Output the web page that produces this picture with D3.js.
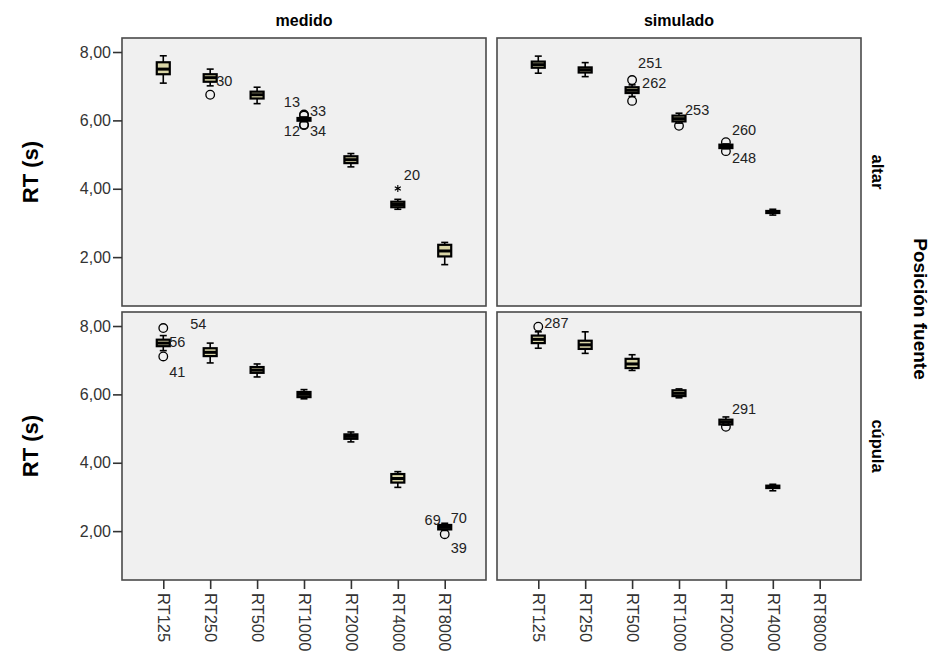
<!DOCTYPE html>
<html>
<head>
<meta charset="utf-8">
<script src="https://cdn.jsdelivr.net/npm/d3@7"></script>
<style>
  body { margin: 0; background: #fff; }
  text { font-family: "Liberation Sans", Arial, sans-serif; }
</style>
</head>
<body>
<svg id="chart" width="934" height="657"></svg>
<script>
const categories = ["RT125", "RT250", "RT500", "RT1000", "RT2000", "RT4000", "RT8000"]
const columns = ["medido", "simulado"]
const rows = ["altar", "cúpula"]
const yTicks = [2, 4, 6, 8]

// box stats per category: [lower whisker, q1, median, q3, upper whisker]
const medidoAltar = [
    [7.09, 7.35, 7.50, 7.70, 7.89],
    [7.01, 7.13, 7.25, 7.35, 7.50],
    [6.49, 6.64, 6.75, 6.84, 6.97],
    [5.96, 5.99, 6.03, 6.07, 6.10],
    [4.64, 4.75, 4.85, 4.95, 5.03],
    [3.40, 3.46, 3.54, 3.62, 3.69],
    [1.78, 2.02, 2.18, 2.36, 2.43]
]
const simuladoAltar = [
    [7.38, 7.54, 7.63, 7.72, 7.88],
    [7.28, 7.40, 7.48, 7.55, 7.69],
    [6.70, 6.80, 6.88, 6.97, 7.04],
    [5.92, 5.97, 6.05, 6.14, 6.21],
    [5.17, 5.19, 5.24, 5.29, 5.31],
    [3.23, 3.29, 3.32, 3.35, 3.40],
    null
]
const medidoCupula = [
    [7.28, 7.41, 7.50, 7.60, 7.72],
    [6.92, 7.12, 7.23, 7.35, 7.50],
    [6.51, 6.63, 6.71, 6.80, 6.89],
    [5.87, 5.92, 6.00, 6.07, 6.14],
    [4.61, 4.70, 4.77, 4.83, 4.90],
    [3.28, 3.42, 3.54, 3.67, 3.74],
    [2.02, 2.05, 2.11, 2.18, 2.23]
]
const simuladoCupula = [
    [7.35, 7.50, 7.61, 7.72, 7.83],
    [7.20, 7.33, 7.45, 7.57, 7.83],
    [6.70, 6.77, 6.89, 7.04, 7.16],
    [5.90, 5.95, 6.03, 6.12, 6.16],
    [5.10, 5.12, 5.19, 5.26, 5.34],
    [3.18, 3.26, 3.30, 3.33, 3.37],
    null
]

// outliers: o = circle, * = extreme
const outliersMedidoAltar = [
    {cat: "RT250", v: 6.75, mark: "o"},
    {cat: "RT1000", v: 6.17, mark: "o"},
    {cat: "RT1000", v: 6.14, mark: "o"},
    {cat: "RT1000", v: 5.88, mark: "o"},
    {cat: "RT1000", v: 5.86, mark: "o"},
    {cat: "RT4000", v: 4.01, mark: "*"}
]
const outliersSimuladoAltar = [
    {cat: "RT500", v: 7.18, mark: "o"},
    {cat: "RT500", v: 6.57, mark: "o"},
    {cat: "RT1000", v: 5.84, mark: "o"},
    {cat: "RT2000", v: 5.36, mark: "o"},
    {cat: "RT2000", v: 5.10, mark: "o"}
]
const outliersMedidoCupula = [
    {cat: "RT125", v: 7.94, mark: "o"},
    {cat: "RT125", v: 7.11, mark: "o"},
    {cat: "RT8000", v: 1.91, mark: "o"}
]
const outliersSimuladoCupula = [
    {cat: "RT125", v: 7.98, mark: "o"},
    {cat: "RT2000", v: 5.05, mark: "o"}
]

// case labels next to outliers (v = where the label sits, side = r/l of the box)
const labelsMedidoAltar = [
    {cat: "RT250", v: 7.16, text: "30", side: "r"},
    {cat: "RT1000", v: 6.55, text: "13", side: "l"},
    {cat: "RT1000", v: 6.29, text: "33", side: "r"},
    {cat: "RT1000", v: 5.68, text: "12", side: "l"},
    {cat: "RT1000", v: 5.68, text: "34", side: "r"},
    {cat: "RT4000", v: 4.40, text: "20", side: "r"}
]
const labelsSimuladoAltar = [
    {cat: "RT500", v: 7.67, text: "251", side: "r"},
    {cat: "RT500", v: 7.09, text: "262", side: "r"},
    {cat: "RT1000", v: 6.31, text: "253", side: "r"},
    {cat: "RT2000", v: 5.73, text: "260", side: "r"},
    {cat: "RT2000", v: 4.90, text: "248", side: "r"}
]
const labelsMedidoCupula = [
    {cat: "RT125", v: 8.06, text: "54", side: "r"},
    {cat: "RT125", v: 7.52, text: "56", side: "r"},
    {cat: "RT125", v: 6.65, text: "41", side: "r"},
    {cat: "RT8000", v: 2.33, text: "69", side: "l"},
    {cat: "RT8000", v: 2.38, text: "70", side: "r"},
    {cat: "RT8000", v: 1.50, text: "39", side: "r"}
]
const labelsSimuladoCupula = [
    {cat: "RT125", v: 8.09, text: "287", side: "r"},
    {cat: "RT2000", v: 5.58, text: "291", side: "r"}
]

const panels = [
    {col: 0, row: 0, boxes: medidoAltar, outliers: outliersMedidoAltar, labels: labelsMedidoAltar},
    {col: 1, row: 0, boxes: simuladoAltar, outliers: outliersSimuladoAltar, labels: labelsSimuladoAltar},
    {col: 0, row: 1, boxes: medidoCupula, outliers: outliersMedidoCupula, labels: labelsMedidoCupula},
    {col: 1, row: 1, boxes: simuladoCupula, outliers: outliersSimuladoCupula, labels: labelsSimuladoCupula}
]

// layout
const panelW = 364, panelH = 268
const colX = [122, 497], rowY = [38, 312]
const boxW = 13, capW = 7
const boxFill = "#d9d5a6"
const labelNudge = {"54": 27, "262": 10}

const svg = d3.select("#chart")

const x = d3.scalePoint().domain(categories).range([0, panelW]).padding(0.88)
const y = d3.scaleLinear().domain([0.57, 8.41]).range([panelH, 0])

const fmt = d => d3.format(".2f")(d).replace(".", ",")

panels.forEach(p => {
    const g = svg.append("g")
        .attr("transform", `translate(${colX[p.col]},${rowY[p.row]})`)

    g.append("rect")
        .attr("width", panelW).attr("height", panelH)
        .attr("fill", "#f0f0f0")

    const stats = categories.map((c, i) => ({cat: c, s: p.boxes[i]})).filter(d => d.s)

    const bx = g.append("g").selectAll("g")
        .data(stats)
        .enter()
        .append("g")
        .attr("transform", d => `translate(${x(d.cat)},0)`)

    // whiskers
    bx.append("line")
        .attr("y1", d => y(d.s[0])).attr("y2", d => y(d.s[4]))
        .attr("stroke", "#000").attr("stroke-width", 1.6)
    bx.selectAll(".cap")
        .data(d => [d.s[0], d.s[4]])
        .enter()
        .append("line")
        .attr("x1", -capW / 2).attr("x2", capW / 2)
        .attr("y1", d => y(d)).attr("y2", d => y(d))
        .attr("stroke", "#000").attr("stroke-width", 1.6)
    // box
    bx.append("rect")
        .attr("x", -boxW / 2)
        .attr("width", boxW)
        .attr("y", d => y(d.s[3]))
        .attr("height", d => y(d.s[1]) - y(d.s[3]))
        .attr("fill", boxFill)
        .attr("stroke", "#000").attr("stroke-width", 2.2)
    // median
    bx.append("line")
        .attr("x1", -boxW / 2).attr("x2", boxW / 2)
        .attr("y1", d => y(d.s[2])).attr("y2", d => y(d.s[2]))
        .attr("stroke", "#000").attr("stroke-width", 3)

    // outliers
    g.append("g").selectAll("circle")
        .data(p.outliers.filter(d => d.mark == "o"))
        .enter()
        .append("circle")
        .attr("cx", d => x(d.cat)).attr("cy", d => y(d.v))
        .attr("r", 4.3)
        .attr("fill", "none")
        .attr("stroke", "#000").attr("stroke-width", 1.3)
    g.append("g").selectAll("path")
        .data(p.outliers.filter(d => d.mark == "*"))
        .enter()
        .append("path")
        .attr("transform", d => `translate(${x(d.cat)},${y(d.v)})`)
        .attr("d", d3.symbol(d3.symbolAsterisk, 34))
        .attr("fill", "none")
        .attr("stroke", "#000").attr("stroke-width", 1.1)

    // case labels
    g.append("g").selectAll("text")
        .data(p.labels)
        .enter()
        .append("text")
        .attr("x", d => x(d.cat) + (labelNudge[d.text] || (d.side == "r" ? 6 : -4)))
        .attr("y", d => y(d.v))
        .attr("dy", "0.35em")
        .attr("text-anchor", d => d.side == "r" ? "start" : "end")
        .style("font-size", "14.5px")
        .style("fill", "#222")
        .text(d => d.text)

    // border
    g.append("rect")
        .attr("width", panelW).attr("height", panelH)
        .attr("fill", "none")
        .attr("stroke", "#4a4a4a").attr("stroke-width", 1.6)

    // y axis on the left column
    if (p.col == 0) {
        const ax = g.append("g")
            .call(d3.axisLeft(y).tickValues(yTicks).tickFormat(fmt).tickSize(9).tickPadding(2))
        ax.select(".domain").remove()
        ax.selectAll(".tick line").attr("stroke", "#333").attr("stroke-width", 1.6)
        ax.selectAll("text")
            .style("font-size", "16px")
            .style("fill", "#333")
            .style("font-family", "'Liberation Sans', Arial, sans-serif")

        g.append("text")
            .attr("transform", `translate(-92,${panelH / 2}) rotate(-90)`)
            .attr("text-anchor", "middle")
            .attr("dy", "0.35em")
            .style("font-size", "22px")
            .style("font-weight", "bold")
            .text("RT (s)")
    }

    // x axis on the bottom row
    if (p.row == 1) {
        const ax = g.append("g")
            .attr("transform", `translate(0,${panelH})`)
            .call(d3.axisBottom(x).tickSize(9).tickPadding(0))
        ax.select(".domain").remove()
        ax.selectAll(".tick line").attr("stroke", "#333").attr("stroke-width", 1.6)
        ax.selectAll("text")
            .attr("transform", "rotate(90)")
            .attr("x", 13).attr("y", 0).attr("dy", "0.35em")
            .attr("text-anchor", "start")
            .style("font-size", "16.5px")
            .style("fill", "#333")
            .style("font-family", "'Liberation Sans', Arial, sans-serif")
    }

    // column headers
    if (p.row == 0) {
        g.append("text")
            .attr("x", panelW / 2).attr("y", -12)
            .attr("text-anchor", "middle")
            .style("font-size", "16px")
            .style("font-weight", "bold")
            .text(columns[p.col])
    }

    // row strip labels
    if (p.col == 1) {
        g.append("text")
            .attr("transform", `translate(${panelW + 17},${panelH / 2}) rotate(90)`)
            .attr("text-anchor", "middle")
            .attr("dy", "0.35em")
            .style("font-size", "16.5px")
            .style("font-weight", "bold")
            .text(rows[p.row])
    }
})

svg.append("text")
    .attr("transform", `translate(921,${(rowY[0] + rowY[1] + panelH) / 2}) rotate(90)`)
    .attr("text-anchor", "middle")
    .attr("dy", "0.35em")
    .style("font-size", "19px")
    .style("font-weight", "bold")
    .text("Posición fuente")
</script>
</body>
</html>
